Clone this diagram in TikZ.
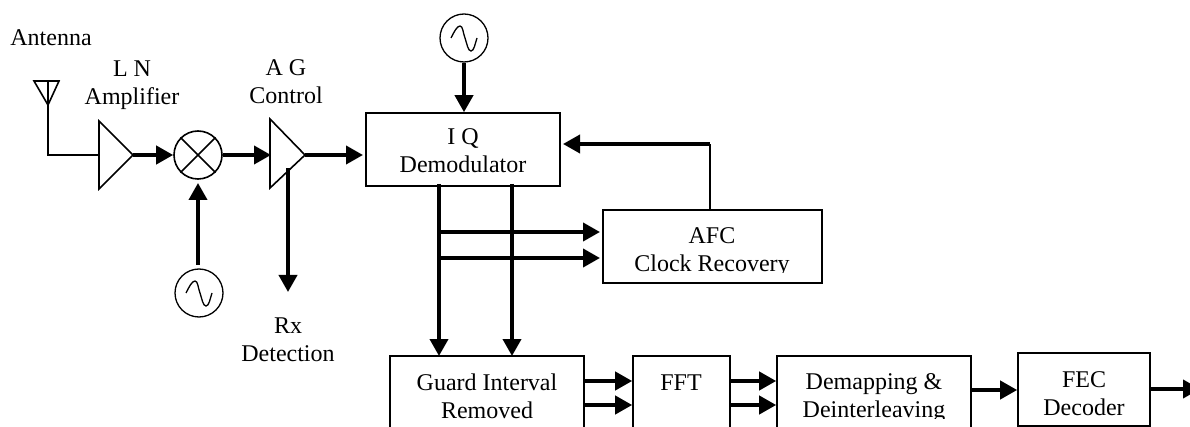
\documentclass[tikz,border=0pt]{standalone}
\usepackage{fontspec}
\setmainfont{Liberation Serif}
\usetikzlibrary{arrows.meta}
\begin{document}
\begin{tikzpicture}[x=1pt,y=-1pt,
  thick line/.style={line width=3.8pt,-{Triangle[length=17pt,width=18pt]}},
  thin line/.style={line width=1.6pt},
  block/.style={draw,line width=1.6pt,fill=white},
  osc/.style={draw,circle,line width=1.3pt,minimum size=48pt,inner sep=0pt},
  txt/.style={font=\fontsize{24pt}{28pt}\selectfont,align=center,inner sep=0pt},
]
\useasboundingbox (0,0) rectangle (1190,427);
\clip (0,0) rectangle (1190,427);
% antenna
\coordinate (antL) at (34,81); \coordinate (antR) at (59,81);
\coordinate (antT) at (48,105); \coordinate (antTop) at (48,81);
\coordinate (antC) at (48,155);
\draw[thin line,line join=miter] (antL) -- (antR) -- (antT) -- cycle;
% amplifier triangles
\coordinate (lnaA) at (99,121); \coordinate (lnaB) at (99,189); \coordinate (lnaO) at (133,155); \coordinate (lnaI) at (99,155);
\coordinate (agcA) at (270,119); \coordinate (agcB) at (270,188); \coordinate (agcO) at (305,155); \coordinate (agcI) at (271,155);
\coordinate (agcD) at (288,168); \coordinate (rxEnd) at (288,292);
\draw[thin line] (antTop) -- (antC) -- (lnaI);
\draw[thin line] (lnaA) -- (lnaO) -- (lnaB) -- cycle;
\draw[thin line] (agcA) -- (agcO) -- (agcB) -- cycle;
% mixer
\node[draw,circle,line width=1.6pt,minimum size=48pt,inner sep=0pt] (mix) at (198,155) {};
\draw[thin line] (mix.north west) -- (mix.south east) (mix.north east) -- (mix.south west);
% oscillators
\node[osc] (oscA) at (199,293) {};
\node[osc] (oscB) at (464,38) {};
\foreach \c in {oscA,oscB}{
  \begin{scope}[shift={(\c.center)}]
  \draw[line width=1.3pt] (-13,0) .. controls (-10,-6) and (-7,-12) .. (-4,-12) .. controls (-1,-12) and (-1,-5) .. (1,0) .. controls (3,6) and (4,13) .. (7,13) .. controls (10,13) and (11,6) .. (13,0);
  \end{scope}
}
% blocks
\node[block,minimum width=194pt,minimum height=73pt] (iq) at (463,149.5) {};
\node[block,minimum width=219pt,minimum height=73pt] (afc) at (712.5,246.5) {};
\node[block,minimum width=194pt,minimum height=90pt] (gi) at (487,401) {};
\node[block,minimum width=97pt,minimum height=90pt] (fft) at (681.5,401) {};
\node[block,minimum width=194pt,minimum height=90pt] (dem) at (874,401) {};
\node[block,minimum width=132pt,minimum height=73pt] (fec) at (1084,389.5) {};
% labels
\node[txt,anchor=base] (lAnt) at (51,46) {Antenna};
\node[txt,anchor=base] (lLna) at (132,105) {L N\\Amplifier};
\node[txt,anchor=base] (lAgc) at (286,104) {A G\\Control};
\node[txt,anchor=base] (lIq) at (463,173) {I Q\\Demodulator};
\begin{scope}
  \clip (600,205) rectangle (825,273);
  \node[txt,anchor=base] (lAfc) at (712,272) {AFC\\Clock Recovery};
\end{scope}
\node[txt,anchor=base] (lRx) at (288,361) {Rx\\Detection};
\node[txt,anchor=base] (lGi) at (487,418) {Guard Interval\\Removed};
\node[txt,anchor=base] (lFft) at (681,390) {FFT};
\begin{scope}
  \clip (780,350) rectangle (968,418);
  \node[txt,anchor=base] (lDem) at (874,417) {Demapping \&\\Deinterleaving};
\end{scope}
\node[txt,anchor=base] (lFec) at (1084,415) {FEC\\Decoder};
% connectors
\coordinate (iqA) at (439,184); \coordinate (iqB) at (512,184);
\coordinate (giA) at (439,356); \coordinate (giB) at (512,356);
\coordinate (tapA) at (439,232); \coordinate (tapB) at (439,258);
\coordinate (afcA) at (600,232); \coordinate (afcB) at (600,258);
\coordinate (fbT) at (710,144); \coordinate (fbB) at (710,210);
\coordinate (iqF) at (563,144);
\coordinate (oscAtop) at (198,265); \coordinate (mixIn) at (198,183);
\coordinate (agcEnd) at (363,155);
\draw[thick line] (lnaO) -- (mix.west);
\draw[thick line] (mix.east) -- (agcI);
\draw[thick line] (agcO) -- (agcEnd);
\draw[thick line] (oscAtop) -- (mixIn);
\draw[thick line] (oscB.south) -- (iq.north -| oscB);
\draw[thick line] (agcD) -- (rxEnd);
\draw[thick line] (iqA) -- (giA);
\draw[thick line] (iqB) -- (giB);
\draw[thick line] (tapA) -- (afcA);
\draw[thick line] (tapB) -- (afcB);
\draw[thin line] (fbB) -- (fbT);
\draw[thick line] (fbT) -- (iqF);
\draw[thick line] (gi.east |- 0,381) -- (fft.west |- 0,381);
\draw[thick line] (gi.east |- 0,405) -- (fft.west |- 0,405);
\draw[thick line] (fft.east |- 0,381) -- (dem.west |- 0,381);
\draw[thick line] (fft.east |- 0,405) -- (dem.west |- 0,405);
\draw[thick line] (dem.east |- 0,390) -- (fec.west |- 0,390);
\coordinate (out) at (1200,389);
\draw[thick line] (fec.east |- out) -- (out);
\end{tikzpicture}
\end{document}
